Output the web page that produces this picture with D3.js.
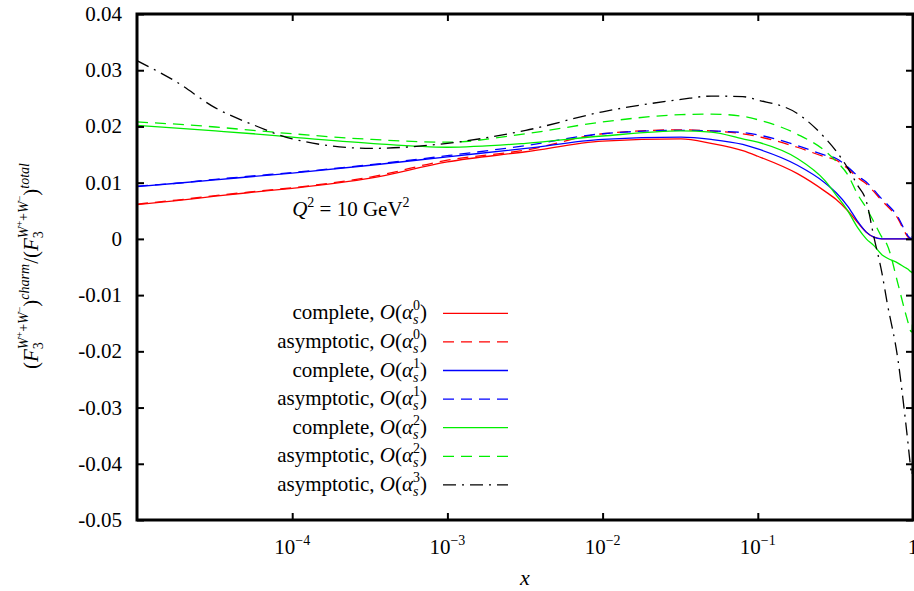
<!DOCTYPE html>
<html>
<head>
<meta charset="utf-8">
<script src="https://cdn.jsdelivr.net/npm/d3@7"></script>
<style>
  body { margin: 0; background: #fff; }
</style>
</head>
<body>
<script>
// x values shared by every curve
var xValues = [1e-5, 1.8e-5, 3.2e-5, 5.6e-5, 1e-4, 3.2e-4, 1e-3, 3.2e-3, 0.01, 0.032, 0.05, 0.08, 0.1,
  0.18, 0.27, 0.32, 0.38, 0.44, 0.5, 0.56, 0.63, 0.68, 0.8, 0.89, 0.93, 0.955, 0.985, 1.0];

var completeA0 = [0.0061, 0.0068, 0.0076, 0.0083, 0.0090, 0.0108, 0.0137, 0.0155, 0.0174, 0.0178, 0.0170, 0.0157, 0.0147,
  0.0116, 0.0085, 0.0070, 0.0050, 0.0029, 0.0012, 0.0003, 0.0000, 0, 0, 0, 0, 0, 0, 0];
var asymptoticA0 = [0.0062, 0.0069, 0.0077, 0.0084, 0.0091, 0.0110, 0.0140, 0.0158, 0.0187, 0.0194, 0.0192, 0.0187, 0.0182,
  0.0163, 0.0146, 0.0140, 0.0125, 0.0109, 0.0098, 0.0084, 0.0068, 0.0059, 0.0036, 0.0011, 0.0003, 0.0001, 0.0, 0.0035];
var completeA1 = [0.0093, 0.0099, 0.0105, 0.0111, 0.0117, 0.0131, 0.0146, 0.0161, 0.0177, 0.0181, 0.0177, 0.0168, 0.0160,
  0.0131, 0.0100, 0.0082, 0.0058, 0.0031, 0.0012, 0.0003, 0.0, 0, 0, 0, 0, 0, 0, 0];
var asymptoticA1 = [0.0094, 0.0099, 0.0106, 0.0112, 0.0118, 0.0132, 0.0148, 0.0166, 0.0187, 0.0193, 0.0192, 0.0189, 0.0185,
  0.0166, 0.0149, 0.0143, 0.0128, 0.0112, 0.0101, 0.0087, 0.0071, 0.0062, 0.0039, 0.0014, 0.0005, 0.0002, 0.0, 0.0045];
var completeA2 = [0.0202, 0.0197, 0.0192, 0.0187, 0.0181, 0.0170, 0.0163, 0.0170, 0.0183, 0.0192, 0.0190, 0.0178, 0.0172,
  0.0143, 0.0104, 0.0078, 0.0050, 0.0020, 0.0000, -0.0012, -0.0028, -0.0034, -0.0043, -0.0051, -0.0054, -0.0057, -0.0060, -0.0062];
var asymptoticA2 = [0.0208, 0.0204, 0.0199, 0.0193, 0.0187, 0.0177, 0.0172, 0.0187, 0.0208, 0.0221, 0.0222, 0.0218, 0.0212,
  0.0186, 0.0157, 0.0138, 0.0114, 0.0079, 0.0055, 0.0030, 0.0003, -0.0010, -0.0080, -0.0130, -0.0149, -0.0161, -0.0166, -0.0104];
var asymptoticA3 = [0.0317, 0.0279, 0.0233, 0.0203, 0.0178, 0.0161, 0.0170, 0.0193, 0.0226, 0.0248, 0.0254, 0.0253, 0.0247,
  0.0223, 0.0180, 0.0156, 0.0126, 0.0095, 0.0067, 0.0003, -0.0060, -0.0112, -0.0215, -0.0318, -0.0365, -0.0395, -0.0420, -0.0360];

var yTicks = [0.04, 0.03, 0.02, 0.01, 0, -0.01, -0.02, -0.03, -0.04, -0.05];
var yTickLabels = ["0.04", "0.03", "0.02", "0.01", "0", "-0.01", "-0.02", "-0.03", "-0.04", "-0.05"];
var xTicks = [1e-4, 1e-3, 1e-2, 1e-1, 1];
var xTickExponents = ["\u22124", "\u22123", "\u22122", "\u22121", ""];

var seriesNames = ["complete", "asymptotic", "complete", "asymptotic", "complete", "asymptotic", "asymptotic"];
var seriesOrders = ["0", "0", "1", "1", "2", "2", "3"];
var seriesValues = [completeA0, asymptoticA0, completeA1, asymptoticA1, completeA2, asymptoticA2, asymptoticA3];

// styles
var seriesColors = ["#ff0000", "#ff0000", "#0000ff", "#0000ff", "#00ee00", "#00ee00", "#000000"];
var seriesDash = [null, "11,7", null, "11,7", null, "11,7", "13,6,2,6"];
var serif = "'Liberation Serif', 'Times New Roman', 'DejaVu Serif', serif";

var svgWidth = 914;
var svgHeight = 591;
var margin = { top: 14, right: 1, bottom: 71, left: 137 };
var width = svgWidth - margin.left - margin.right;
var height = svgHeight - margin.top - margin.bottom;

var svg = d3.select("body").append("svg")
  .attr("width", svgWidth).attr("height", svgHeight)
  .attr("font-family", serif);
var chartGroup = svg.append("g").attr("transform", `translate(${margin.left}, ${margin.top})`);

var xScale = d3.scaleLog().domain([1e-5, 1]).range([0, width]);
var yScale = d3.scaleLinear().domain([-0.05, 0.04]).range([height, 0]);

chartGroup.append("clipPath").attr("id", "plotclip")
  .append("rect").attr("width", width).attr("height", height);

// curves
var line = d3.line()
  .x(d => xScale(d[0]))
  .y(d => yScale(d[1]))
  .curve(d3.curveMonotoneX);

var curves = chartGroup.append("g").attr("clip-path", "url(#plotclip)");
seriesValues.forEach(function(vals, i) {
  curves.append("path")
    .datum(xValues.map((xv, j) => [xv, vals[j]]))
    .attr("d", line)
    .attr("fill", "none")
    .attr("stroke", seriesColors[i])
    .attr("stroke-width", 1.3)
    .attr("stroke-dasharray", seriesDash[i]);
});

// ticks on all four sides, pointing inward
function styleTicks(g) {
  g.select(".domain").remove();
  g.selectAll(".tick line").attr("stroke-width", 2);
}
chartGroup.append("g").attr("transform", `translate(0, ${height})`)
  .call(d3.axisBottom(xScale).tickValues(xTicks).tickSize(-7).tickFormat("")).call(styleTicks);
chartGroup.append("g")
  .call(d3.axisTop(xScale).tickValues(xTicks).tickSize(-7).tickFormat("")).call(styleTicks);
chartGroup.append("g")
  .call(d3.axisLeft(yScale).tickValues(yTicks).tickSize(-7).tickFormat("")).call(styleTicks);
chartGroup.append("g").attr("transform", `translate(${width}, 0)`)
  .call(d3.axisRight(yScale).tickValues(yTicks).tickSize(-7).tickFormat("")).call(styleTicks);

chartGroup.append("rect")
  .attr("width", width).attr("height", height)
  .attr("fill", "none").attr("stroke", "#000").attr("stroke-width", 3);

// tick labels
chartGroup.selectAll(".ylab").data(yTicks).enter().append("text")
  .attr("class", "ylab")
  .attr("x", -15)
  .attr("y", d => yScale(d) + 7)
  .attr("text-anchor", "end")
  .attr("font-size", 21)
  .text((d, i) => yTickLabels[i]);

var xlab = chartGroup.selectAll(".xlab").data(xTicks).enter().append("text")
  .attr("class", "xlab")
  .attr("x", d => xScale(d))
  .attr("y", height + 34)
  .attr("text-anchor", "middle")
  .attr("font-size", 21);
xlab.append("tspan").text((d, i) => xTickExponents[i] ? "10" : "1");
xlab.append("tspan").attr("font-size", 14).attr("dy", -9).text((d, i) => xTickExponents[i]);

// axis titles
chartGroup.append("text")
  .attr("x", width / 2)
  .attr("y", height + 65)
  .attr("text-anchor", "middle")
  .attr("font-size", 22)
  .attr("font-style", "italic")
  .text("x");

function addF3(t) {
  t.append("tspan").attr("font-style", "italic").text("F");
  t.append("tspan").attr("font-size", 14).attr("dy", 5).text("3");
  t.append("tspan").attr("font-size", 14).attr("font-style", "italic").attr("dx", -7).attr("dy", -15).text("W");
  t.append("tspan").attr("font-size", 10).attr("dy", -5).text("+");
  t.append("tspan").attr("font-size", 14).attr("dy", 5).text("+");
  t.append("tspan").attr("font-size", 14).attr("font-style", "italic").text("W");
  t.append("tspan").attr("font-size", 10).attr("dy", -5).text("\u2212");
}
var ytitle = svg.append("text")
  .attr("transform", "translate(38, 266) rotate(-90)")
  .attr("text-anchor", "middle")
  .attr("font-size", 21);
ytitle.append("tspan").text("(");
addF3(ytitle);
ytitle.append("tspan").attr("dy", 15).text(")");
ytitle.append("tspan").attr("font-size", 14).attr("font-style", "italic").attr("dy", -9).text("charm");
ytitle.append("tspan").attr("dy", 9).text("/(");
addF3(ytitle);
ytitle.append("tspan").attr("dy", 15).text(")");
ytitle.append("tspan").attr("font-size", 14).attr("font-style", "italic").attr("dy", -9).text("total");

// Q^2 annotation
var qlab = chartGroup.append("text")
  .attr("x", xScale(1e-4))
  .attr("y", yScale(0.0041))
  .attr("font-size", 21);
qlab.append("tspan").attr("font-style", "italic").text("Q");
qlab.append("tspan").attr("font-size", 14).attr("dy", -9).text("2");
qlab.append("tspan").attr("dy", 9).text(" = 10 GeV");
qlab.append("tspan").attr("font-size", 14).attr("dy", -9).text("2");

// legend
var legend = svg.append("g");
seriesNames.forEach(function(name, i) {
  var ly = 313.3 + i * 28.6;
  var t = legend.append("text")
    .attr("x", 427)
    .attr("y", ly + 6)
    .attr("text-anchor", "end")
    .attr("font-size", 21);
  t.append("tspan").text(name + ", ");
  t.append("tspan").attr("font-style", "italic").text("O");
  t.append("tspan").text("(");
  t.append("tspan").attr("font-style", "italic").text("\u03b1");
  t.append("tspan").attr("font-size", 14).attr("font-style", "italic").attr("dy", 5).text("s");
  t.append("tspan").attr("font-size", 14).attr("dx", -5.5).attr("dy", -14).text(seriesOrders[i]);
  t.append("tspan").attr("dy", 9).text(")");
  legend.append("line")
    .attr("x1", 443).attr("x2", 508)
    .attr("y1", ly).attr("y2", ly)
    .attr("stroke", seriesColors[i])
    .attr("stroke-width", 1.3)
    .attr("stroke-dasharray", seriesDash[i]);
});
</script>
</body>
</html>
